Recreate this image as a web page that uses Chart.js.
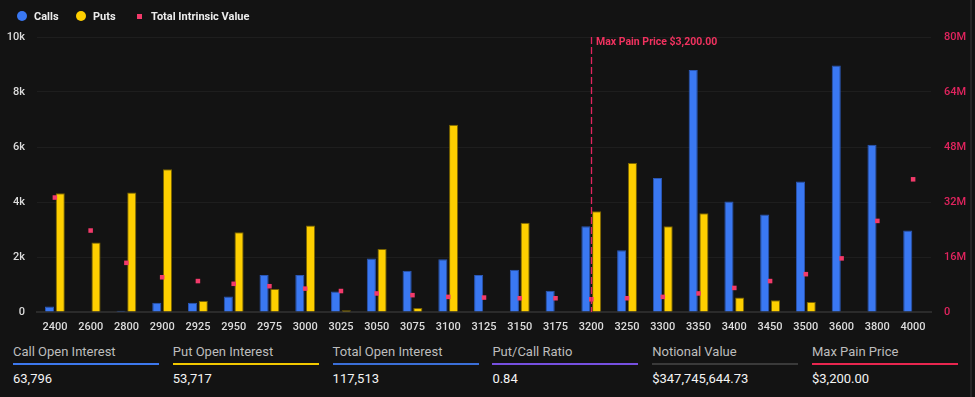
<!DOCTYPE html>
<html>
<head>
<meta charset="utf-8">
<script src="https://cdn.jsdelivr.net/npm/chart.js@4.4.1/dist/chart.umd.min.js"></script>
<style>
  body { margin: 0; background: #131313; width: 975px; height: 397px; overflow: hidden; font-family: Roboto, sans-serif; }
  #page { position: absolute; left: 0; top: 0; width: 970px; height: 397px; border-right: 2px solid #262626; }
  #chartBox { position: absolute; left: 0; top: 0; width: 970px; height: 335px; }
  .leg { position: absolute; top: 10px; height: 12px; display: flex; align-items: center; font-size: 11px; font-weight: 700; color: #ececec; }
  .leg i { display: inline-block; margin-right: 7px; }
  .leg .dot { width: 10px; height: 10px; border-radius: 50%; }
  .leg .sq { width: 5px; height: 5px; margin-right: 9px; }
  .stat { position: absolute; top: 344px; width: 146px; }
  .stat .lab { font-size: 13px; line-height: 15px; color: #bdbdbd; }
  .stat .line { height: 2px; margin-top: 4px; }
  .stat .val { font-size: 13px; line-height: 15px; margin-top: 6px; color: #f4f4f4; }
  .stat:nth-of-type(1) .line { background: #3d78ee; }
  .stat:nth-of-type(2) .line { background: #f2c800; }
  .stat:nth-of-type(3) .line { background: #3b6fd8; }
  .stat:nth-of-type(4) .line { background: #7650e0; }
  .stat:nth-of-type(5) .line { background: #3a3a3a; }
  .stat:nth-of-type(6) .line { background: #e8264f; }
</style>
</head>
<body>
<div id="page">
  <div id="chartBox"><canvas id="myChart"></canvas></div>
  <div class="leg" style="left:17px"><i class="dot" style="background:#3a78f2"></i>Calls</div>
  <div class="leg" style="left:76px"><i class="dot" style="background:#fecf00"></i>Puts</div>
  <div class="leg" style="left:137px"><i class="sq" style="background:#f23a6a"></i>Total Intrinsic Value</div>
  <div id="stats"></div>
</div>
<script>
// strikes on the x axis
const strikes = ["2400", "2600", "2800", "2900", "2925", "2950", "2975", "3000", "3025", "3050", "3075", "3100", "3125",
  "3150", "3175", "3200", "3250", "3300", "3350", "3400", "3450", "3500", "3600", "3800", "4000"];

// open interest per strike (contracts)
const callOI = [200, 0, 50, 340, 340, 560, 1345, 1345, 750, 1950, 1500, 1920, 1345,
  1540, 775, 3120, 2250, 4870, 8800, 4020, 3550, 4750, 8960, 6080, 2960];
const putOI = [4320, 2530, 4350, 5190, 400, 2900, 835, 3150, 60, 2290, 145, 6810, 0,
  3250, 0, 3660, 5420, 3120, 3590, 530, 425, 365, 0, 0, 0];

// total intrinsic value per strike (USD)
const intrinsicValue = [33.3e6, 23.7e6, 14.3e6, 10.1e6, 9.0e6, 8.2e6, 7.5e6, 6.8e6, 6.1e6, 5.4e6, 4.9e6, 4.4e6, 4.2e6,
  4.0e6, 4.0e6, 3.7e6, 4.0e6, 4.4e6, 5.4e6, 7.0e6, 9.0e6, 11.0e6, 15.6e6, 26.5e6, 38.6e6];

const leftTickLabels = ["0", "2k", "4k", "6k", "8k", "10k"];
const rightTickLabels = ["0", "16M", "32M", "48M", "64M", "80M"];

const maxPainStrike = "3200";
const maxPainText = "Max Pain Price $3,200.00";

const statLabels = ["Call Open Interest", "Put Open Interest", "Total Open Interest", "Put/Call Ratio", "Notional Value", "Max Pain Price"];
const statValues = ["63,796", "53,717", "117,513", "0.84", "$347,745,644.73", "$3,200.00"];

// stat boxes under the chart
const statsEl = document.getElementById("stats");
statLabels.forEach((lab, i) => {
  const d = document.createElement("div");
  d.className = "stat";
  d.style.left = (13 + i * 159.8) + "px";
  d.innerHTML = `<div class="lab">${lab}</div><div class="line"></div><div class="val">${statValues[i]}</div>`;
  statsEl.appendChild(d);
});

Chart.defaults.font.family = "Roboto, sans-serif";

// dashed max pain marker
const maxPainLine = {
  id: "maxPainLine",
  afterDatasetsDraw(chart) {
    const { ctx, chartArea } = chart;
    const x = Math.round(chart.scales.x.getPixelForValue(strikes.indexOf(maxPainStrike))) + 0.5;
    ctx.save();
    ctx.strokeStyle = "#e0245e";
    ctx.lineWidth = 1.3;
    ctx.setLineDash([7, 3]);
    ctx.beginPath();
    ctx.moveTo(x, chartArea.top);
    ctx.lineTo(x, chartArea.bottom);
    ctx.stroke();
    ctx.setLineDash([]);
    ctx.fillStyle = "#f0325f";
    ctx.font = "bold 10.5px Roboto";
    ctx.textBaseline = "top";
    ctx.fillText(maxPainText, x + 4.5, chartArea.top + 0.5);
    ctx.restore();
  }
};

const ctx = document.getElementById("myChart").getContext("2d");
const myChart = new Chart(ctx, {
  type: "bar",
  data: {
    labels: strikes,
    datasets: [
      {
        type: "line",
        label: "Total Intrinsic Value",
        data: intrinsicValue,
        yAxisID: "y2",
        showLine: false,
        pointStyle: "rect",
        pointRadius: 3.2,
        pointBorderWidth: 0,
        pointBackgroundColor: "#f23a6a",
        order: 0
      },
      {
        label: "Calls",
        data: callOI,
        yAxisID: "y",
        backgroundColor: "#3a78f2",
        borderColor: "#2a56b4",
        borderWidth: 1,
        categoryPercentage: 0.6,
        barPercentage: 0.85,
        order: 1
      },
      {
        label: "Puts",
        data: putOI,
        yAxisID: "y",
        backgroundColor: "#fecf00",
        borderColor: "#7a6400",
        borderWidth: 1,
        categoryPercentage: 0.6,
        barPercentage: 0.85,
        order: 1
      }
    ]
  },
  options: {
    responsive: true,
    maintainAspectRatio: false,
    animation: false,
    events: [],
    layout: { padding: { top: 37, left: 0, right: 0, bottom: 0 } },
    plugins: { legend: { display: false }, tooltip: { enabled: false } },
    scales: {
      x: {
        grid: { display: false },
        border: { color: "#2b2b2b", width: 2 },
        ticks: { color: "#dcdcdc", font: { size: 11, weight: 500 }, padding: 1, autoSkip: false, maxRotation: 0 },
        afterFit(scale) { scale.height = 23; }
      },
      y: {
        position: "left",
        min: 0,
        max: 10000,
        grid: { color: "#1e1e1e", drawTicks: false },
        border: { display: false },
        ticks: {
          stepSize: 2000,
          color: "#dcdcdc",
          font: { size: 11, weight: 500 },
          padding: 12,
          callback: (v, i) => leftTickLabels[i]
        },
        afterFit(scale) { scale.width = 37; }
      },
      y2: {
        position: "right",
        min: 0,
        max: 80e6,
        grid: { drawOnChartArea: false, drawTicks: false },
        border: { display: false },
        ticks: {
          stepSize: 16e6,
          color: "#e0245e",
          font: { size: 11, weight: 500 },
          padding: 13,
          callback: (v, i) => rightTickLabels[i]
        },
        afterFit(scale) { scale.width = 39; }
      }
    }
  },
  plugins: [maxPainLine]
});
</script>
</body>
</html>
